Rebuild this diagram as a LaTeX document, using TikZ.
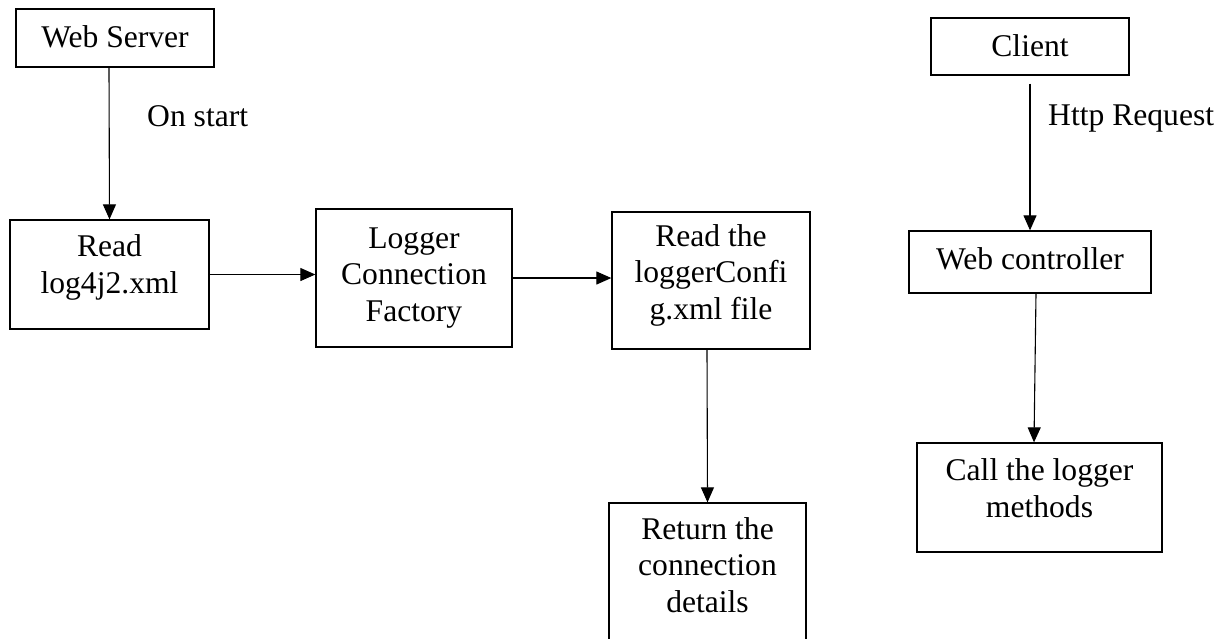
\documentclass[tikz,border=0pt]{standalone}
\usepackage{fontspec}
\setmainfont{Liberation Serif}
\usetikzlibrary{arrows.meta}
\begin{document}
\begin{tikzpicture}[x=1pt,y=-1pt,
  box/.style={draw, line width=1.3pt, rectangle, inner sep=0pt},
  txt/.style={font=\fontsize{31.6}{36.5}\selectfont, align=center, anchor=base, inner sep=0pt},
  lbl/.style={font=\fontsize{31.6}{36.5}\selectfont, anchor=base west, inner sep=0pt},
  arr/.style={line width=1.1pt, -{Triangle[width=13pt,length=15pt]}}]
\useasboundingbox (0,0) rectangle (1221,638);
% boxes
\node[box, minimum width=198pt, minimum height=58pt] (ws) at (115,38) {};
\node[box, minimum width=199pt, minimum height=109pt] (rl) at (109.5,274.5) {};
\node[box, minimum width=196pt, minimum height=138pt] (lcf) at (414,278) {};
\node[box, minimum width=198pt, minimum height=137pt] (rc) at (711,280.5) {};
\node[box, minimum width=197pt, minimum height=160pt] (rt) at (707.5,583) {};
\node[box, minimum width=198pt, minimum height=57pt] (cl) at (1030,46.5) {};
\node[box, minimum width=242pt, minimum height=62pt] (wc) at (1030,262) {};
\node[box, minimum width=245pt, minimum height=109pt] (cm) at (1039.5,497.5) {};
% texts (base = last line baseline)
\node[txt] (wst) at (115,47) {Web Server};
\node[txt] (rlt) at (109.5,293) {Read\\log4j2.xml};
\node[txt] (lcft) at (414,321) {Logger\\Connection\\Factory};
\node[txt] (rct) at (711,319) {Read the\\loggerConfi\\g.xml file};
\node[txt] (rtt) at (707.5,612) {Return the\\connection\\details};
\node[txt] (clt) at (1030,56) {Client};
\node[txt] (wct) at (1030,269) {Web controller};
\node[txt] (cmt) at (1039.5,517) {Call the logger\\methods};
% labels
\node[lbl] (onstart) at (147,126) {On start};
\node[lbl] (http) at (1048,125) {Http Request};
% arrows
\draw[arr] ([xshift=-6pt]ws.south) -- (rl.north);
\draw[arr] (rl.east) -- (rl.east -| lcf.west);
\draw[arr] (lcf.east) -- (lcf.east -| rc.west);
\draw[arr] ([xshift=-4pt]rc.south) -- (rt.north);
\draw[arr] ([yshift=-8pt]cl.south) -- (cl.south |- wc.north);
\draw[arr] ([xshift=6pt]wc.south) -- ([xshift=-5.5pt]cm.north);
\end{tikzpicture}
\end{document}
